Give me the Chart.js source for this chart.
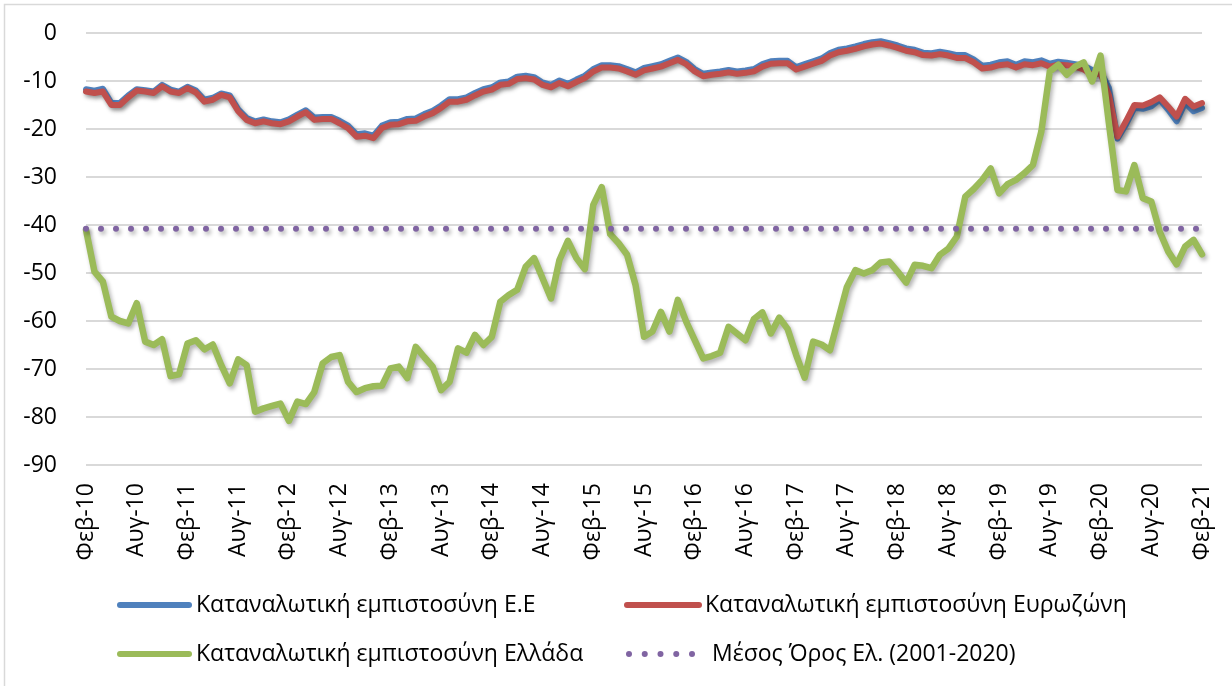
<!DOCTYPE html>
<html>
<head>
<meta charset="utf-8">
<script src="https://cdn.jsdelivr.net/npm/chart.js@4.4.1/dist/chart.umd.min.js"></script>
<style>
html,body{margin:0;padding:0;background:#fff;}
#wrap{position:relative;width:1232px;height:686px;overflow:hidden;}
canvas{display:block;}
</style>
</head>
<body>
<div id="wrap"><canvas id="c" width="1232" height="686"></canvas></div>
<script>
// ---- data ----
const monthNames = ['Ιαν','Φεβ','Μαρ','Απρ','Μαϊ','Ιουν','Ιουλ','Αυγ','Σεπ','Οκτ','Νοε','Δεκ'];
const firstYear = 2010, firstMonth = 1, monthCount = 133; // Φεβ-10 .. Φεβ-21
const categories = [];
for (let i = 0; i < monthCount; i++) {
  const m = (firstMonth + i) % 12;
  const y = firstYear + Math.floor((firstMonth + i) / 12);
  categories.push(monthNames[m] + '-' + String(y).slice(2));
}
const tickLabels = ['Φεβ-10','Αυγ-10','Φεβ-11','Αυγ-11','Φεβ-12','Αυγ-12','Φεβ-13','Αυγ-13','Φεβ-14','Αυγ-14','Φεβ-15','Αυγ-15','Φεβ-16','Αυγ-16','Φεβ-17','Αυγ-17','Φεβ-18','Αυγ-18','Φεβ-19','Αυγ-19','Φεβ-20','Αυγ-20','Φεβ-21'];
const yTicks = [0,-10,-20,-30,-40,-50,-60,-70,-80,-90];
const seriesNames = ['Καταναλωτική εμπιστοσύνη Ε.Ε','Καταναλωτική εμπιστοσύνη Ευρωζώνη','Καταναλωτική εμπιστοσύνη Ελλάδα','Μέσος Όρος Ελ. (2001-2020)'];

const euValues = [
-11.7,-12.0,-11.6,-14.6,-14.6,-13.0,-11.7,-11.9,-12.2,-10.8,-11.8,-12.2,-11.2,-12.0,-13.9,-13.5,-12.6,-13.0,-15.9,-17.7,
-18.4,-18.0,-18.4,-18.6,-18.0,-17.0,-16.1,-17.6,-17.5,-17.5,-18.3,-19.3,-21.1,-20.9,-21.4,-19.3,-18.6,-18.5,-17.9,-17.8,
-16.9,-16.2,-15.1,-13.8,-13.8,-13.4,-12.5,-11.7,-11.3,-10.3,-10.1,-9.1,-8.9,-9.2,-10.3,-10.8,-9.9,-10.6,-9.7,-8.9,
-7.5,-6.7,-6.7,-6.9,-7.5,-8.2,-7.3,-6.9,-6.5,-5.8,-5.1,-6.0,-7.5,-8.5,-8.2,-8.0,-7.7,-8.0,-7.8,-7.5,
-6.5,-5.9,-5.8,-5.8,-7.1,-6.5,-5.9,-5.3,-4.2,-3.5,-3.2,-2.8,-2.3,-1.9,-1.7,-2.1,-2.6,-3.2,-3.5,-4.1,
-4.2,-3.9,-4.2,-4.6,-4.6,-5.5,-6.8,-6.6,-6.1,-5.9,-6.6,-5.9,-6.1,-5.7,-6.4,-6.0,-6.2,-6.5,-6.8,-7.7,
-8.0,-11.5,-22.0,-19.1,-15.6,-15.8,-15.3,-13.9,-16.0,-18.4,-14.6,-16.3,-15.6];

const ezValues = [
-12.2,-12.5,-12.2,-15.0,-15.0,-13.4,-12.0,-12.2,-12.5,-11.1,-12.2,-12.5,-11.5,-12.4,-14.3,-13.9,-12.9,-13.4,-16.3,-18.1,
-18.8,-18.4,-18.8,-19.0,-18.4,-17.4,-16.5,-18.1,-17.9,-17.9,-18.8,-19.8,-21.6,-21.4,-21.9,-19.8,-19.1,-19.0,-18.4,-18.3,
-17.4,-16.7,-15.6,-14.3,-14.3,-13.9,-13.0,-12.2,-11.8,-10.8,-10.6,-9.6,-9.4,-9.7,-10.8,-11.3,-10.4,-11.1,-10.2,-9.4,
-8.0,-7.2,-7.2,-7.4,-8.0,-8.7,-7.8,-7.4,-7.0,-6.3,-5.6,-6.5,-8.0,-9.0,-8.7,-8.5,-8.2,-8.5,-8.3,-8.0,
-7.0,-6.4,-6.3,-6.3,-7.6,-7.0,-6.4,-5.8,-4.7,-4.0,-3.7,-3.3,-2.8,-2.4,-2.2,-2.6,-3.1,-3.7,-4.0,-4.6,
-4.7,-4.4,-4.7,-5.2,-5.2,-6.1,-7.4,-7.2,-6.7,-6.5,-7.2,-6.5,-6.7,-6.3,-7.0,-6.6,-6.7,-7.0,-7.6,-8.7,
-8.4,-13.0,-21.6,-18.4,-15.0,-15.1,-14.4,-13.4,-15.3,-17.4,-13.7,-15.3,-14.6];

const grValues = [
-41.0,-49.7,-51.8,-59.1,-60.0,-60.5,-56.3,-64.3,-65.0,-63.8,-71.5,-71.1,-64.7,-64.0,-65.9,-64.9,-69.2,-73.0,-68.0,-69.2,
-78.9,-78.2,-77.7,-77.2,-80.8,-76.8,-77.3,-74.8,-68.8,-67.5,-67.1,-72.7,-74.8,-74.0,-73.6,-73.5,-69.9,-69.5,-71.9,-65.4,
-67.5,-69.5,-74.4,-72.7,-65.7,-66.6,-62.9,-65.0,-63.3,-56.0,-54.6,-53.5,-48.7,-46.9,-51.1,-55.3,-47.3,-43.3,-46.9,-49.2,
-35.8,-32.1,-41.9,-43.8,-46.2,-52.5,-63.3,-62.2,-58.1,-62.2,-55.6,-60.2,-64.0,-67.8,-67.3,-66.6,-61.2,-62.6,-64.0,-59.6,
-58.2,-62.6,-59.3,-61.7,-67.1,-71.8,-64.3,-64.9,-66.1,-59.5,-52.9,-49.4,-50.1,-49.4,-47.8,-47.6,-49.7,-52.0,-48.3,-48.5,
-49.0,-46.2,-44.9,-42.4,-34.1,-32.5,-30.6,-28.2,-33.4,-31.5,-30.6,-29.2,-27.5,-20.5,-8.0,-6.6,-8.7,-7.0,-6.1,-10.1,
-4.7,-19.0,-32.7,-33.0,-27.5,-34.4,-35.1,-41.4,-45.5,-48.2,-44.5,-43.1,-46.1];

const grAverage = -40.8;
const avgValues = categories.map(() => grAverage);

// ---- styles ----
const colors = ['#4F81BD','#C0504D','#9BBB59','#8064A2'];
const FONT = '"Open Sans", "Noto Sans", sans-serif';

const shadowPlugin = {
  id: 'shadow',
  beforeDatasetDraw(chart) {
    const ctx = chart.ctx;
    ctx.save();
    ctx.shadowColor = 'rgba(0,0,0,0.30)';
    ctx.shadowBlur = 4;
    ctx.shadowOffsetX = 2;
    ctx.shadowOffsetY = 3;
  },
  afterDatasetDraw(chart) { chart.ctx.restore(); }
};

const frameAndLegend = {
  id: 'frameAndLegend',
  beforeDraw(chart) {
    const ctx = chart.ctx;
    ctx.save();
    ctx.strokeStyle = '#d9d9d9';
    ctx.lineWidth = 1.5;
    ctx.beginPath();
    ctx.moveTo(4.5, 686); ctx.lineTo(4.5, 4.5); ctx.lineTo(1232, 4.5);
    ctx.stroke();
    ctx.restore();
  },
  afterDraw(chart) {
    const ctx = chart.ctx;
    const items = [
      {i:0, x1:120, x2:189, tx:196, y:605},
      {i:1, x1:627, x2:699, tx:705, y:605},
      {i:2, x1:120, x2:189, tx:196, y:654},
      {i:3, x1:629, x2:692, tx:712, y:654, dotted:true}
    ];
    ctx.save();
    items.forEach(it => {
      ctx.strokeStyle = colors[it.i];
      ctx.fillStyle = colors[it.i];
      if (it.dotted) {
        for (let k = 0; k < 5; k++) {
          const x = it.x1 + k * (it.x2 - it.x1) / 4;
          ctx.beginPath(); ctx.arc(x, it.y, 3, 0, Math.PI * 2); ctx.fill();
        }
      } else {
        ctx.lineWidth = 6; ctx.lineCap = 'round';
        ctx.beginPath(); ctx.moveTo(it.x1, it.y); ctx.lineTo(it.x2, it.y); ctx.stroke();
      }
      ctx.fillStyle = '#000';
      ctx.font = '23px ' + FONT;
      ctx.textBaseline = 'middle';
      ctx.textAlign = 'left';
      ctx.fillText(seriesNames[it.i], it.tx, it.y);
    });
    ctx.restore();
  }
};

const common = {pointRadius: 0, pointHoverRadius: 0, tension: 0, borderJoinStyle: 'round', borderCapStyle: 'round', clip: false, fill: false};

new Chart(document.getElementById('c'), {
  type: 'line',
  data: {
    labels: categories,
    datasets: [
      Object.assign({label: seriesNames[0], data: euValues, borderColor: colors[0], borderWidth: 6, order: 3}, common),
      Object.assign({label: seriesNames[1], data: ezValues, borderColor: colors[1], borderWidth: 6, order: 2}, common),
      Object.assign({label: seriesNames[2], data: grValues, borderColor: colors[2], borderWidth: 6.5, order: 1}, common),
      Object.assign({label: seriesNames[3], data: avgValues, borderColor: colors[3], borderWidth: 6, order: 0, borderDash: [0, 15]}, common)
    ]
  },
  options: {
    responsive: false,
    animation: false,
    events: [],
    layout: {autoPadding: false, padding: {left: 6, right: 30, top: 33, bottom: 111}},
    plugins: {legend: {display: false}, tooltip: {enabled: false}},
    scales: {
      x: {
        type: 'category',
        offset: false,
        grid: {display: false, drawTicks: false},
        border: {display: false},
        ticks: {
          autoSkip: false, maxRotation: 90, minRotation: 90, padding: 18,
          color: '#000', font: {family: FONT, size: 23},
          callback: function(v, i) { const l = categories[i]; return tickLabels.includes(l) ? l : ''; }
        },
        afterFit(s) { s.height = 110; s.paddingLeft = 0; s.paddingRight = 0; }
      },
      y: {
        min: -90, max: 0,
        afterBuildTicks(s) { s.ticks = yTicks.map(v => ({value: v})); },
        grid: {color: '#d9d9d9', lineWidth: 2, drawTicks: false},
        border: {display: false},
        ticks: {padding: 29, color: '#000', font: {family: FONT, size: 23}},
        afterFit(s) { s.width = 80; s.paddingTop = 0; s.paddingBottom = 0; }
      }
    }
  },
  plugins: [shadowPlugin, frameAndLegend]
});
</script>
</body>
</html>
